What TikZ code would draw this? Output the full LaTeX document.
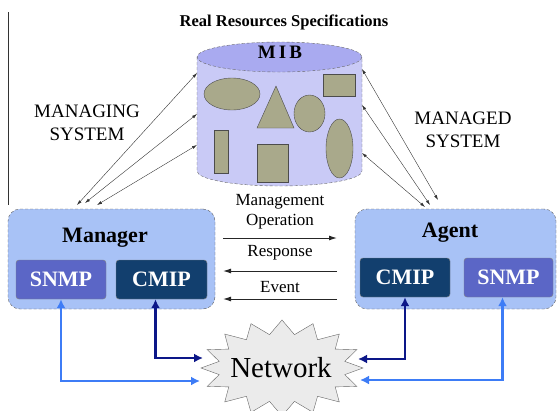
\documentclass[tikz,border=0pt]{standalone}
\usepackage{fontspec}
\setmainfont{Liberation Serif}
\usetikzlibrary{arrows.meta}

\definecolor{mibbody}{HTML}{C9CAF6}
\definecolor{mibtop}{HTML}{A9AAF0}
\definecolor{resfill}{HTML}{A9A98B}
\definecolor{boxfill}{HTML}{A8C2F6}
\definecolor{snmpfill}{HTML}{5B66C6}
\definecolor{cmipfill}{HTML}{123F6E}
\definecolor{darklink}{HTML}{0C1788}
\definecolor{lightlink}{HTML}{3D7CF6}
\definecolor{netfill}{HTML}{EBEBEB}

\tikzset{
  res/.style={fill=resfill, draw=black!70, thin},
  sysbox/.style={draw=black!65, densely dashed, fill=boxfill, rounded corners=12pt},
  proto/.style={draw=black!50, rounded corners=3pt, text=white, font=\fontsize{22}{24}\selectfont\bfseries, minimum height=39pt},
  mlink/.style={black!80, thin, {Latex[length=5pt,width=3pt]}-{Latex[length=5pt,width=3pt]}},
  msg/.style={black!85, line width=1pt, -{Latex[length=8pt,width=5pt]}},
  netlink/.style={line width=2.5pt, {Latex[length=9pt,width=9pt]}-{Latex[length=9pt,width=9pt]}},
}

\begin{document}
\begin{tikzpicture}[x=1pt,y=-1pt]
    \useasboundingbox (0,0) rectangle (557,410);
    \draw[black!80] (8,12) -- (8,205);
    \node[font=\fontsize{16.5}{18}\selectfont\bfseries] (spec) at (284,22) {Real Resources Specifications};
    % the MIB cylinder
    \filldraw[fill=mibbody, draw=black!60, densely dashed] (197,57) -- (197,171) arc (180:0:82.5 and 15) -- (362,57);
    \filldraw[fill=mibtop, draw=black!60, densely dashed] (279.5,57) ellipse (82.5 and 15);
    \node[font=\fontsize{19}{20}\selectfont\bfseries] (mibname) at (280,52) {M\,I\,B};
    \draw[res] (232,94) ellipse (28 and 16);
    \draw[res] (276,86) -- (294,128) -- (257,128) -- cycle;
    \draw[res] (309.5,113.5) ellipse (15.5 and 18.5);
    \draw[res] (323,74) rectangle (355,96);
    \draw[res] (339.5,148.5) ellipse (13.5 and 29.5);
    \draw[res] (214,130) rectangle (228,173);
    \draw[res] (257,144) rectangle (288,182);
    \node[font=\fontsize{19}{23}\selectfont, align=center] (mgsys) at (87,123) {MANAGING\\SYSTEM};
    \node[font=\fontsize{19}{23}\selectfont, align=center] (mdsys) at (463,130) {MANAGED\\SYSTEM};
    % manager and agent
    \node[sysbox, minimum width=207pt, minimum height=100pt] (mgr) at (111.5,259) {};
    \node[font=\fontsize{22}{24}\selectfont\bfseries] (mgrname) at (105,238) {Manager};
    \node[proto, fill=snmpfill, minimum width=90pt] (msnmp) at (61,279.5) {SNMP};
    \node[proto, fill=cmipfill, minimum width=91pt] (mcmip) at (161.5,279.5) {CMIP};
    \node[sysbox, minimum width=201pt, minimum height=100pt] (agt) at (455.5,259) {};
    \node[font=\fontsize{22}{24}\selectfont\bfseries] (agtname) at (450,233) {Agent};
    \node[proto, fill=cmipfill, minimum width=90pt] (acmip) at (405,277.5) {CMIP};
    \node[proto, fill=snmpfill, minimum width=89pt] (asnmp) at (508.5,277.5) {SNMP};
    % links to the MIB
    \coordinate (mibL1) at (197,73);
    \coordinate (mibL2) at (197,114);
    \coordinate (mibL3) at (197,145);
    \coordinate (mibR1) at (362,69);
    \coordinate (mibR2) at (362,105);
    \coordinate (mibR3) at (362,153);
    \coordinate (mgrT1) at (77,205);
    \coordinate (mgrT2) at (85,203);
    \coordinate (mgrT3) at (97,205);
    \coordinate (agtT1) at (438,200);
    \coordinate (agtT2) at (430,205);
    \coordinate (agtT3) at (425,207);
    \foreach \i in {1,2,3} {
        \draw[mlink] (mgrT\i) -- (mibL\i);
        \draw[mlink] (agtT\i) -- (mibR\i);
    }
    % messages
    \node[font=\fontsize{17}{20}\selectfont, align=center] (opname) at (280,212) {Management\\Operation};
    \node[font=\fontsize{17}{20}\selectfont] (respname) at (280,253) {Response};
    \node[font=\fontsize{17}{20}\selectfont] (evname) at (280,287) {Event};
    \coordinate (opL) at (223,238);
    \coordinate (opR) at (337,238);
    \coordinate (respL) at (223,271);
    \coordinate (respR) at (337,271);
    \coordinate (evL) at (223,299);
    \coordinate (evR) at (337,299);
    \draw[msg] (opL) -- (opR);
    \draw[msg] (respR) -- (respL);
    \draw[msg] (evR) -- (evL);
    % network
    \filldraw[fill=netfill, draw=black!60] plot[samples at={0,1,...,31}, variable=\k]
        ({282+(iseven(\k) ? 81 : 64)*cos(\k*11.25)}, {368+(iseven(\k) ? 48 : 34)*sin(\k*11.25)}) -- cycle;
    \node[font=\fontsize{29}{30}\selectfont] (net) at (281,368) {Network};
    \coordinate (netL1) at (203,358);
    \coordinate (netL2) at (200,381);
    \coordinate (netR1) at (358,359);
    \coordinate (netR2) at (360,380);
    \draw[netlink, darklink] ([xshift=-6pt]mcmip.south) |- (netL1);
    \draw[netlink, lightlink] (msnmp.south) |- (netL2);
    \draw[netlink, darklink] (acmip.south) |- (netR1);
    \draw[netlink, lightlink] ([xshift=-6pt]asnmp.south) |- (netR2);
\end{tikzpicture}
\end{document}
